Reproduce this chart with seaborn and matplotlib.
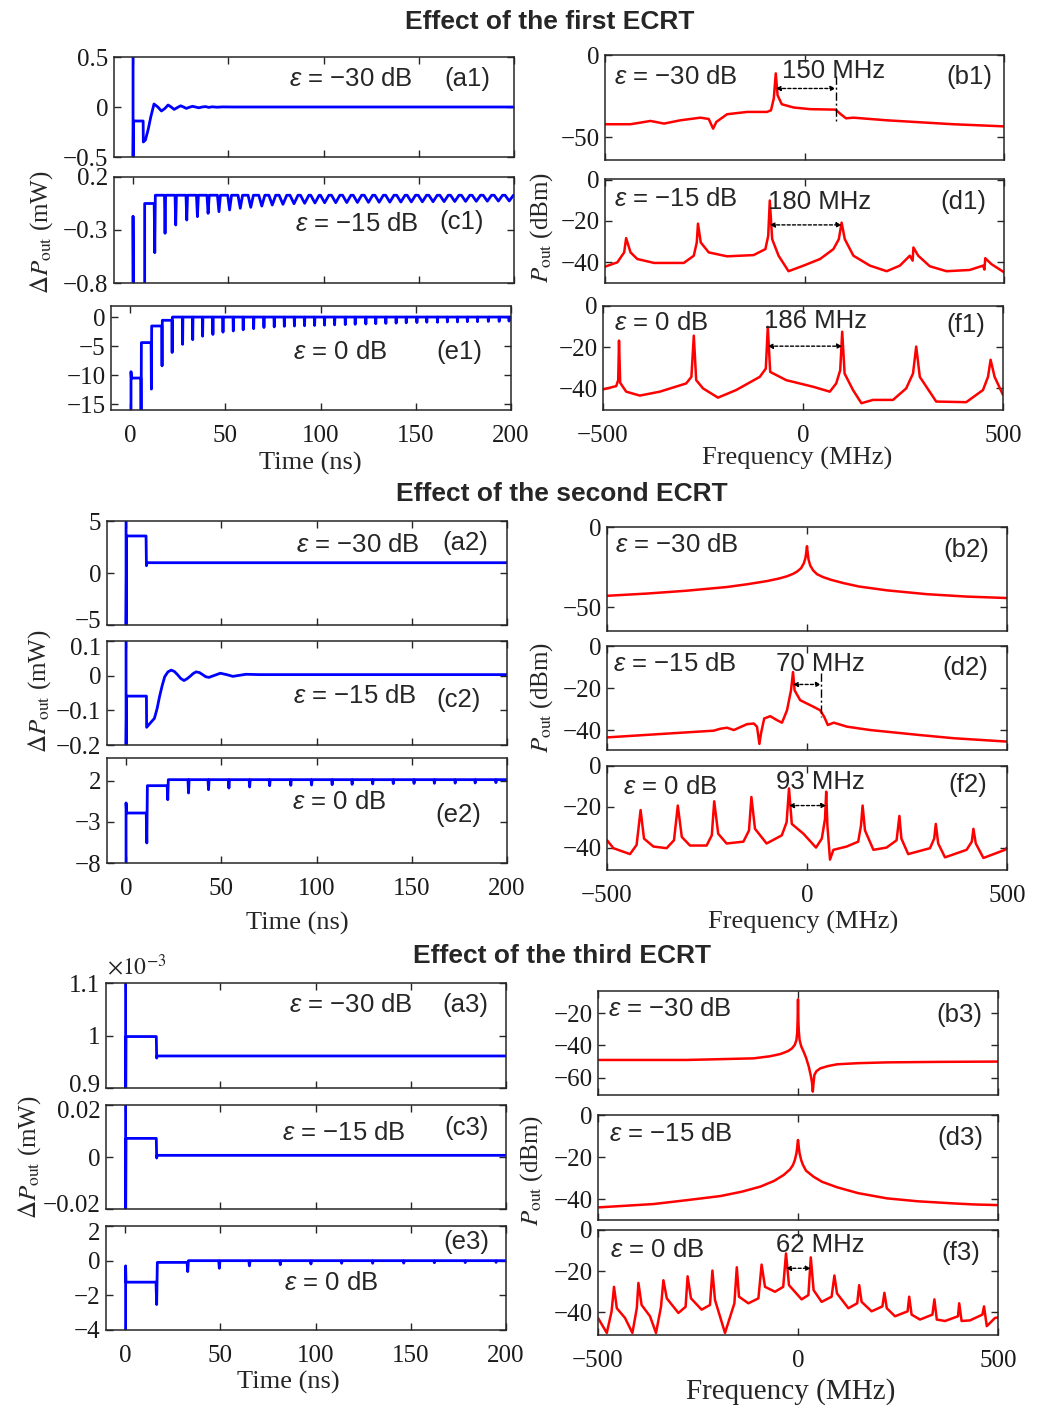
import numpy as np
import matplotlib
matplotlib.use("Agg")
import matplotlib.pyplot as plt
import seaborn as sns
from matplotlib.ticker import FixedLocator, FuncFormatter
from matplotlib.transforms import ScaledTranslation

# ---------------------------------------------------------------- time traces (ns, mW)
# first ECRT
a1_t = [0, 0, 0.2, 5.3, 5.4, 6.5, 8.0, 9.3, 11.0, 13.0, 14.9, 16.7, 18.4, 20.0, 21.6, 23.3, 25.0,
        26.5, 28.0, 29.5, 31.2, 32.8, 34.5, 36.3, 38.0, 39.8, 41.5, 44.0, 47.0, 52.0, 200]
a1_y = [0.6, -0.6, -0.14, -0.14, -0.35, -0.33, -0.22, -0.10, 0.03, 0.0, -0.04, -0.015, 0.02, 0.0,
        -0.024, -0.005, 0.012, 0.0, -0.014, -0.003, 0.007, 0.0, -0.008, 0.0, 0.004, -0.004, 0.002,
        -0.002, 0.001, 0.0, 0.0]

c1_pre_t = [0, 0, 0.2, 6.1, 6.1]
c1_pre_y = [-1.0, -0.17, -1.0, -1.0, -0.05]
c1_step_t = [6.1, 11.4]
c1_step_y = [-0.05, 0.028]
c1_dip_t = [11.4, 16.8, 22.4, 28.2, 33.8, 39.4, 45.1, 50.7, 56.3, 61.8, 67.6, 73.1, 78.7, 84.5,
            90.1, 95.5, 100.6, 106.4, 112.2, 117.8, 123.6, 129.2, 134.8, 140.6, 146.1, 151.9,
            157.5, 163.3, 168.9, 174.6, 180.2, 186.0, 191.8, 197.5]
c1_dip_y = [-0.514, -0.331, -0.253, -0.206, -0.174, -0.143, -0.127, -0.111, -0.095, -0.086,
            -0.074, -0.064, -0.058, -0.052, -0.048, -0.045, -0.043, -0.042, -0.041, -0.040,
            -0.039, -0.038, -0.037, -0.036, -0.035, -0.034, -0.033, -0.032, -0.031, -0.030,
            -0.029, -0.028, -0.027, -0.026]
c1_dip_w = [0.3, 0.3, 0.35, 0.4, 0.5, 0.6, 0.8, 1.0, 1.2, 1.4, 1.6, 1.8, 2.0, 2.1, 2.2, 2.2, 2.2,
            2.2, 2.2, 2.2, 2.2, 2.2, 2.2, 2.2, 2.2, 2.2, 2.2, 2.2, 2.2, 2.2, 2.2, 2.2, 2.2, 2.2]

e1_pre_t = [0.5, 0.5, 0.7]
e1_pre_y = [-20, -9.4, -10.5]
e1_step_t = [0.5, 5.8, 11.2, 16.8, 22.1]
e1_step_y = [-10.5, -4.4, -1.54, -0.56, 0.0]
e1_dip_t = [5.8, 11.2, 16.8, 22.1, 27.6, 32.9, 38.1, 43.5, 48.8, 54.2, 59.4, 64.9, 70.3, 75.7,
            81.0, 86.3, 91.6, 96.9, 102.1, 107.4, 113.0, 118.2, 123.8, 129.0, 134.3, 139.7,
            145.0, 150.6, 155.8, 161.4, 166.6, 171.9, 177.1, 182.4, 188.1, 193.8, 199.0]
e1_dip_y = [-20, -12.4, -8.4, -6.1, -4.7, -3.9, -3.3, -3.0, -2.6, -2.4, -2.2, -2.0, -1.8, -1.7,
            -1.6, -1.55, -1.5, -1.45, -1.4, -1.35, -1.3, -1.25, -1.2, -1.15, -1.1, -1.05, -1.0,
            -0.95, -0.9, -0.9, -0.85, -0.85, -0.8, -0.8, -0.75, -0.75, -0.7]

# second ECRT
a2_pre_t = [0, 0, 0.3]
a2_pre_y = [6, -6, 3.56]
a2_step_t = [0, 10.7]
a2_step_y = [3.56, 0.99]
a2_dip_t = [10.7]
a2_dip_y = [0.7]

c2_t = [0, 0, 0.3, 10.7, 10.8, 12.2, 14.9, 16.3, 17.6, 19.0, 20.3, 22.0, 23.7, 25.4, 27.0, 28.7,
        30.4, 32.0, 33.6, 35.2, 36.8, 38.5, 40.2, 41.8, 43.5, 46.5, 49.5, 52.8, 56.1, 59.5, 63.0,
        70.0, 80.0, 200]
c2_y = [0.12, -0.22, -0.059, -0.059, -0.149, -0.140, -0.123, -0.095, -0.060, -0.028, -0.003,
        0.011, 0.016, 0.012, 0.003, -0.008, -0.014, -0.009, -0.002, 0.006, 0.011, 0.009, 0.003,
        -0.003, -0.005, 0.001, 0.007, 0.003, -0.002, 0.001, 0.004, 0.003, 0.003, 0.003]

e2_pre_t = [0, 0, 0.3]
e2_pre_y = [-10, -0.7, -1.93]
e2_step_t = [0, 10.9, 21.9]
e2_step_y = [-1.93, 1.39, 2.12]
e2_dip_t = [10.9, 21.9, 32.8, 43.3, 54.0, 64.9, 75.4, 86.5, 97.4, 108.2, 118.7, 129.5, 140.3,
            151.2, 161.9, 172.8, 183.3, 194.2]
e2_dip_y = [-5.57, -0.31, 0.5, 0.9, 1.1, 1.23, 1.39, 1.43, 1.47, 1.51, 1.55, 1.6, 1.64, 1.66,
            1.68, 1.7, 1.72, 1.76]

# third ECRT
a3_pre_t = [0.3, 0.3, 0.5]
a3_pre_y = [1.2e-3, 0.8e-3, 0.998e-3]
a3_step_t = [0.3, 16.6]
a3_step_y = [0.998e-3, 0.961e-3]
a3_dip_t = [16.6]
a3_dip_y = [0.957e-3]

c3_pre_t = [0.3, 0.3, 0.5]
c3_pre_y = [0.03, -0.03, 0.00716]
c3_step_t = [0.3, 16.6]
c3_step_y = [0.00716, 0.00064]
c3_dip_t = [16.6]
c3_dip_y = [-0.0004]

e3_pre_t = [0.3, 0.3, 0.5]
e3_pre_y = [-6, -0.3, -1.24]
e3_step_t = [0.3, 16.6, 32.9]
e3_step_y = [-1.24, -0.1, 0.0]
e3_dip_t = [16.6, 32.9, 49.5, 65.3, 81.5, 97.6, 113.7, 130.0, 146.3, 162.4, 178.6, 194.8]
e3_dip_y = [-2.53, -0.63, -0.44, -0.3, -0.23, -0.19, -0.15, -0.15, -0.14, -0.12, -0.11, -0.1]

# ---------------------------------------------------------------- spectra (MHz, dBm)
b1_f = [-500, -436, -386, -352, -311, -261, -240, -229, -221, -194, -144, -94, -84, -77, -72,
        -67.5, -57, -27.5, 14, 78, 89, 104, 122.5, 206, 289, 372.5, 500]
b1_p = [-42.2, -42.2, -40.2, -41.8, -39.8, -38.2, -39.0, -44.9, -40.8, -36.1, -34.7, -34.7,
        -33.7, -26.5, -11.2, -24.5, -30.0, -32.0, -33.0, -33.3, -35.7, -38.6, -38.2, -39.8,
        -41.0, -42.2, -43.5]

d1_f = [-500, -469, -452, -447, -436, -419, -377, -302.5, -277.5, -270, -267, -260, -240, -194,
        -127.5, -98, -91, -87, -81, -65, -40, -2.5, 39, 72.5, 86, 93, 101, 122.5, 164, 206, 239,
        264, 271, 273, 285, 314, 356, 414, 447.5, 451, 453, 468, 500]
d1_p = [-42.1, -40, -35.2, -28.3, -35.2, -38.4, -40.3, -40.3, -36.8, -30.4, -21.3, -30.4, -35.2,
        -37.1, -36.5, -33.6, -27.2, -10.1, -28.8, -36.8, -44.3, -41.6, -38.4, -33.6, -28.8,
        -20.8, -28.8, -36.8, -41.6, -44.3, -41.6, -36.8, -39.2, -32.8, -36.8, -41.9, -44.3,
        -43.7, -41.6, -43.5, -38, -40.8, -44.8]

f1_f = [-500, -467, -462, -460, -457, -442, -408, -358, -292, -279, -273, -267, -250, -212.5,
        -167, -108, -93, -88, -82, -42, 25, 67, 83, 93, 98, 104, 125, 146, 175, 225, 258, 275,
        283, 292, 333, 408, 450, 462.5, 469, 479, 500]
f1_p = [-40.5, -38.9, -36, -16.8, -37.3, -41.6, -43.5, -41.6, -37.6, -34.4, -14.4, -36, -40,
        -44.5, -40.8, -34.4, -30.4, -10.1, -32, -36, -39.2, -41.6, -37.6, -31.2, -12.5, -32.8,
        -40.8, -47.2, -45.6, -45.6, -40, -32.8, -19.7, -34.4, -46.4, -46.7, -40.8, -34.4,
        -26.1, -34.4, -43.2]

b2_f = [-500, -400, -300, -200, -150, -100, -70, -50, -35, -25, -15, -8, -4, -2, -1, 0, 1, 2, 4,
        8, 15, 25, 40, 60, 90, 130, 200, 300, 400, 500]
b2_p = [-43, -41.6, -39.8, -37.5, -35.8, -33.8, -32.2, -30.8, -29.3, -27.9, -25.8, -22.7, -19.5,
        -16, -13.8, -12, -14.5, -16.8, -20.5, -24, -27, -29.5, -31.3, -33, -35, -37.2, -39.6,
        -42, -43.5, -44.4]

d2_f = [-500, -342, -233, -217, -200, -183, -150, -133, -125, -119, -115, -107, -92, -75, -62.5,
        -50, -40, -35, -31, -17, 17, 33, 43, 52, 67, 100, 158, 283, 367, 500]
d2_p = [-43.5, -41.6, -40.3, -39.4, -38.9, -40, -37.2, -36.9, -38.4, -46.6, -41.6, -34.5, -33.4,
        -35.3, -36.5, -30.6, -21.1, -12.4, -21.1, -25.8, -29, -30.6, -33.7, -37.6, -36.5, -38.4,
        -40, -42.4, -43.9, -45.5]

f2_f = [-500, -484, -442.5, -426, -416, -407.5, -384, -351, -332.5, -323, -313, -292.5, -251,
        -238, -232, -222, -201, -159, -145, -139, -130, -101, -63, -51, -45, -38, -9, 22.5, 37,
        45, 48, 51, 57.5, 66, 99, 128, 135, 139, 145, 166, 199, 224, 231, 236, 253, 307.5, 318,
        322, 328, 345, 399, 412, 416, 422, 441, 495, 500]
f2_p = [-36.4, -40.3, -43.2, -38.7, -21.6, -35.6, -39.5, -40.3, -36.4, -19.4, -34.8, -39, -39,
        -34, -17.3, -33.2, -38, -37.1, -31.6, -15.2, -30.8, -38, -34, -27.6, -11, -28.4, -33.2,
        -40, -35.6, -26, -12.6, -29.2, -45.9, -41.1, -39.5, -37.1, -29.2, -19.4, -31.6, -41.1,
        -40, -36.4, -24.5, -35.6, -43.2, -40.3, -35.6, -28.4, -38, -44.8, -41.1, -37.1, -30.8,
        -38, -45.1, -41.1, -40]

b3_f = [-500, -277.5, -111, -70, -44, -25, -15, -8, -4, -2, -1, 0, 1, 2, 4, 8, 14, 20, 27, 32.5,
        35, 37, 39, 41, 46, 56, 75, 97.5, 150, 222.5, 350, 500]
b3_p = [-49, -49, -48, -46.7, -45.3, -43.5, -41.8, -39.6, -36.6, -32, -25, -11.3, -25, -31,
        -36.6, -40.5, -43.8, -47.5, -53.2, -59.4, -63, -68.7, -63, -58.3, -56, -54.2, -52.8,
        -51.7, -51, -50.5, -50.2, -50]

d3_f = [-500, -430, -361, -280, -194, -140, -94, -60, -36, -20, -12.5, -8, -4, -2, -1, 0, 1, 2,
        4, 8, 12.5, 20, 39, 60, 97.5, 150, 222.5, 300, 389, 440, 500]
d3_p = [-44, -43.2, -42.4, -40.6, -38.6, -36.5, -34.1, -31.4, -28.6, -25.9, -23.8, -21.5, -18.3,
        -15.5, -13.5, -11.9, -13.5, -15.5, -18.3, -21.5, -23.8, -26.5, -29.4, -31.8, -34.4,
        -37.2, -39.7, -41.1, -42.1, -42.6, -42.9]

f3_f = [-500, -478, -466, -460, -453, -432.5, -414, -403, -399, -391, -370, -355, -342.5,
        -336.5, -328, -299, -281, -276, -267.5, -241, -220, -214, -207.5, -182.5, -159, -153,
        -147.5, -124, -99, -91, -82.5, -57.5, -37, -30, -22.5, 9, 26, 32, 39, 59, 84, 91, 97.5,
        126, 148, 153, 159, 184, 211, 216, 222, 242.5, 274, 278, 284, 305, 336, 341, 347, 367.5,
        400, 403, 409, 430, 461, 465, 472, 492.5, 500]
f3_p = [-42.7, -50, -39.5, -27.6, -38, -42.7, -50, -38, -25.7, -36.4, -41.9, -50, -37.3, -24.4,
        -33.2, -40.3, -37.3, -22.5, -33.2, -38.7, -36.4, -19.7, -34, -50, -35.6, -18.1, -32.4,
        -35.6, -33.2, -16.8, -27.6, -30, -27.6, -11.4, -26.8, -33.7, -31.6, -13.3, -29.2, -34.9,
        -32.4, -22.1, -30.8, -38, -35.6, -26.8, -34.9, -39.5, -37.1, -30.5, -38, -41.9, -39.5,
        -32.4, -41.1, -43.5, -41.1, -33.7, -43.5, -44.2, -41.9, -35.6, -44.2, -43.9, -41.1,
        -37.1, -46.7, -42.7, -42.5]

# mode spacing annotations: (start peak, spacing in MHz, arrow height in dBm)
b1_sep = (-72, 150, -20.4)
d1_sep = (-87, 180, -21.9)
f1_sep = (-88, 186, -19.5)
d2_sep = (-35, 70, -18.3)
f2_sep = (-45, 93, -19.4)
f3_sep = (-30, 62, -18.6)

eps_labels = ["\u221230 dB", "\u221215 dB", "0 dB"]

# ---------------------------------------------------------------- style
sns.set_style("ticks")
plt.rcParams["font.family"] = ["Liberation Serif", "DejaVu Serif"]
plt.rcParams["mathtext.fontset"] = "custom"
plt.rcParams["mathtext.rm"] = "Liberation Sans"
plt.rcParams["mathtext.it"] = "Liberation Sans:italic"
plt.rcParams["mathtext.bf"] = "Liberation Sans:bold"
plt.rcParams["axes.unicode_minus"] = True

W, H = 1037, 1408
fig = plt.figure(figsize=(W / 100, H / 100), dpi=100)
fig.patch.set_facecolor("white")

EDGE = "#262626"
BLUE = "#0000ff"
RED = "#ff0000"
SANS = "Liberation Sans"


def add_ax(l, t, r, b):
    return fig.add_axes([l / W, 1 - b / H, (r - l) / W, (b - t) / H])


def fmt(v, pos):
    return f"{v:g}".replace("-", "\u2212")


def fmt_milli(v, pos):
    return f"{v * 1e3:g}".replace("-", "\u2212")


def style(ax, xlim, ylim, xticks, yticks, show_x, yfmt=fmt):
    ax.set_xlim(xlim)
    ax.set_ylim(ylim)
    ax.xaxis.set_major_locator(FixedLocator(xticks))
    ax.yaxis.set_major_locator(FixedLocator(yticks))
    ax.xaxis.set_major_formatter(FuncFormatter(fmt))
    ax.yaxis.set_major_formatter(FuncFormatter(yfmt))
    ax.tick_params(direction="in", length=5, width=1, top=True, right=True,
                   labelsize=18, colors=EDGE, labelcolor="#1a1a1a")
    ax.tick_params(axis="x", pad=11, labelbottom=show_x)
    ax.tick_params(axis="y", pad=4)
    for s in ax.spines.values():
        s.set_linewidth(1.1)
        s.set_color(EDGE)
    ax.set_xlabel("")
    ax.set_ylabel("")


def nudge_ylabel(ax, index, dy_px):
    """Shift one y tick label vertically so that it clears the neighbouring panel's label."""
    tick = ax.yaxis.get_major_ticks()[index]
    tick.label1.set_transform(tick.label1.get_transform()
                              + ScaledTranslation(0, dy_px / 100, fig.dpi_scale_trans))


def trace(pre_t, pre_y, step_t, step_y, dip_t, dip_y, dip_w, t_end=200):
    """Step response: flat levels between switching events, with a dip at each event."""
    xs, ys = list(pre_t), list(pre_y)
    widths = np.broadcast_to(np.asarray(dip_w, dtype=float), (len(dip_t),))

    def level(t, after):
        idx = [i for i, s in enumerate(step_t) if (s <= t if after else s < t)]
        return step_y[idx[-1]]

    for t, d, w in zip(dip_t, dip_y, widths):
        xs += [t - w, t, t + w]
        ys += [level(t, False), d, level(t, True)]
    xs.append(t_end)
    ys.append(level(t_end, True))
    return np.array(xs), np.array(ys)


def draw(ax, x, y, color, lw):
    sns.lineplot(x=np.asarray(x), y=np.asarray(y), ax=ax, color=color, linewidth=lw,
                 estimator=None, sort=False, legend=False)


def ftext(cx, cy, s, **kw):
    return fig.text(cx / W, 1 - cy / H, s, ha="center", va="center", **kw)


def eps(cx, cy, s):
    ftext(cx, cy, r"$\varepsilon$ = " + s, fontsize=18.5, family=SANS)


def tag(cx, cy, s):
    ftext(cx, cy, s, fontsize=18.5, family=SANS)


def sep_arrow(ax, sep, cx, cy):
    f0, df, y = sep
    ax.annotate("", xy=(f0 + df, y), xytext=(f0, y),
                arrowprops=dict(arrowstyle="<|-|>", linestyle=(0, (2.2, 1.6)), lw=1.0,
                                color="k", mutation_scale=7, shrinkA=0, shrinkB=0))
    ftext(cx, cy, f"{df} MHz", fontsize=18.5, family=SANS)


def ylab(cx, cy, s, size=18):
    ftext(cx, cy, s, rotation=90, fontsize=size, family="Liberation Serif",
          math_fontfamily="stix")


T_TICKS = [0, 50, 100, 150, 200]
F_TICKS = [-500, 0, 500]
T_LIM = (-10, 200)
F_LIM = (-500, 500)
TLW, FLW = 2.0, 1.8

# ---------------------------------------------------------------- group 1
ftext(550, 22, "Effect of the first ECRT", fontsize=19, fontweight="bold", family=SANS)

ax = add_ax(114, 57, 514, 157)
draw(ax, a1_t, a1_y, BLUE, TLW)
style(ax, T_LIM, (-0.5, 0.5), T_TICKS, [-0.5, 0, 0.5], False)
eps(351, 79, eps_labels[0]); tag(467, 79, "(a1)")

ax = add_ax(114, 177, 514, 283)
draw(ax, *trace(c1_pre_t, c1_pre_y, c1_step_t, c1_step_y, c1_dip_t, c1_dip_y, c1_dip_w), BLUE, TLW)
style(ax, T_LIM, (-0.8, 0.2), T_TICKS, [-0.8, -0.3, 0.2], False)
eps(357, 224, eps_labels[1]); tag(462, 222, "(c1)")

ax = add_ax(111, 306, 511, 410)
draw(ax, *trace(e1_pre_t, e1_pre_y, e1_step_t, e1_step_y, e1_dip_t, e1_dip_y, 0.15), BLUE, TLW)
style(ax, T_LIM, (-16, 1.9), T_TICKS, [-15, -10, -5, 0], True)
eps(340, 352, eps_labels[2]); tag(459, 352, "(e1)")

ax = add_ax(605, 55, 1004, 160)
draw(ax, b1_f, b1_p, RED, FLW)
ax.plot([b1_sep[0] + b1_sep[1]] * 2, [-13, -40], color="k", lw=1.0, ls=(0, (6, 2, 1.5, 2)))
style(ax, F_LIM, (-64, 0), F_TICKS, [-50, 0], False)
eps(676, 77, eps_labels[0]); tag(969, 77, "(b1)")
sep_arrow(ax, b1_sep, 834, 71)

ax = add_ax(605, 179, 1004, 283)
draw(ax, d1_f, d1_p, RED, FLW)
style(ax, F_LIM, (-50, 0.3), F_TICKS, [-40, -20, 0], False)
eps(676, 199, eps_labels[1]); tag(963, 202, "(d1)")
sep_arrow(ax, d1_sep, 820, 202)

ax = add_ax(603, 306, 1003, 410)
draw(ax, f1_f, f1_p, RED, FLW)
style(ax, F_LIM, (-50.5, 0), F_TICKS, [-40, -20, 0], True)
eps(661, 323, eps_labels[2]); tag(966, 325, "(f1)")
sep_arrow(ax, f1_sep, 815, 321)

ftext(310, 463, "Time (ns)", fontsize=19)
ftext(797, 458, "Frequency (MHz)", fontsize=19)
ylab(42, 232, r"$\Delta P_{\rm out}$ (mW)")
ylab(542, 227, r"$P_{\rm out}$ (dBm)")

# ---------------------------------------------------------------- group 2
ftext(562, 494, "Effect of the second ECRT", fontsize=19, fontweight="bold", family=SANS)

ax = add_ax(107, 521, 507, 625)
draw(ax, *trace(a2_pre_t, a2_pre_y, a2_step_t, a2_step_y, a2_dip_t, a2_dip_y, 0.2), BLUE, TLW)
style(ax, T_LIM, (-5, 5), T_TICKS, [-5, 0, 5], False)
nudge_ylabel(ax, 0, 5)
eps(358, 545, eps_labels[0]); tag(465, 543, "(a2)")

ax = add_ax(107, 641, 507, 745)
draw(ax, c2_t, c2_y, BLUE, TLW)
style(ax, T_LIM, (-0.2, 0.1), T_TICKS, [-0.2, -0.1, 0, 0.1], False)
nudge_ylabel(ax, 3, -5)
eps(355, 696, eps_labels[1]); tag(459, 700, "(c2)")

ax = add_ax(107, 758, 507, 863)
draw(ax, *trace(e2_pre_t, e2_pre_y, e2_step_t, e2_step_y, e2_dip_t, e2_dip_y, 0.3), BLUE, TLW)
style(ax, T_LIM, (-8, 4.75), T_TICKS, [-8, -3, 2], True)
eps(339, 802, eps_labels[2]); tag(458, 815, "(e2)")

ax = add_ax(607, 527, 1007, 631)
draw(ax, b2_f, b2_p, RED, FLW)
style(ax, F_LIM, (-65, 0), F_TICKS, [-50, 0], False)
eps(677, 545, eps_labels[0]); tag(966, 550, "(b2)")

ax = add_ax(607, 646, 1007, 750)
draw(ax, d2_f, d2_p, RED, FLW)
ax.plot([d2_sep[0] + d2_sep[1]] * 2, [-13, -34], color="k", lw=1.0, ls=(0, (6, 2, 1.5, 2)))
style(ax, F_LIM, (-49.5, 0), F_TICKS, [-40, -20, 0], False)
eps(675, 664, eps_labels[1]); tag(965, 668, "(d2)")
sep_arrow(ax, d2_sep, 820, 664)

ax = add_ax(607, 766, 1007, 870)
draw(ax, f2_f, f2_p, RED, FLW)
style(ax, F_LIM, (-51, 0), F_TICKS, [-40, -20, 0], True)
eps(670, 787, eps_labels[2]); tag(968, 785, "(f2)")
sep_arrow(ax, f2_sep, 820, 782)

ftext(297, 923, "Time (ns)", fontsize=19)
ftext(803, 922, "Frequency (MHz)", fontsize=19)
ylab(40, 691, r"$\Delta P_{\rm out}$ (mW)")
ylab(542, 697, r"$P_{\rm out}$ (dBm)")

# ---------------------------------------------------------------- group 3
ftext(562, 956, "Effect of the third ECRT", fontsize=19, fontweight="bold", family=SANS)

ax = add_ax(106, 983, 506, 1088)
draw(ax, *trace(a3_pre_t, a3_pre_y, a3_step_t, a3_step_y, a3_dip_t, a3_dip_y, 0.2), BLUE, TLW)
style(ax, T_LIM, (0.9e-3, 1.1e-3), T_TICKS, [0.9e-3, 1.0e-3, 1.1e-3], False, yfmt=fmt_milli)
nudge_ylabel(ax, 0, 5)
fig.text(107 / W, 1 - 967 / H, r"$\times10^{-3}$", ha="left", va="center", fontsize=17,
         math_fontfamily="stix")
eps(351, 1005, eps_labels[0]); tag(465, 1005, "(a3)")

ax = add_ax(106, 1105, 506, 1209)
draw(ax, *trace(c3_pre_t, c3_pre_y, c3_step_t, c3_step_y, c3_dip_t, c3_dip_y, 0.2), BLUE, TLW)
style(ax, T_LIM, (-0.02, 0.02), T_TICKS, [-0.02, 0, 0.02], False)
nudge_ylabel(ax, 2, -5)
nudge_ylabel(ax, 0, 5)
eps(344, 1133, eps_labels[1]); tag(467, 1128, "(c3)")

ax = add_ax(106, 1226, 506, 1330)
draw(ax, *trace(e3_pre_t, e3_pre_y, e3_step_t, e3_step_y, e3_dip_t, e3_dip_y, 0.35), BLUE, TLW)
style(ax, T_LIM, (-4, 2), T_TICKS, [-4, -2, 0, 2], True)
nudge_ylabel(ax, 3, -5)
eps(331, 1283, eps_labels[2]); tag(466, 1242, "(e3)")

ax = add_ax(598, 991, 998, 1095)
draw(ax, b3_f, b3_p, RED, FLW)
style(ax, F_LIM, (-70.8, -6.1), F_TICKS, [-60, -40, -20], False)
eps(670, 1009, eps_labels[0]); tag(959, 1015, "(b3)")

ax = add_ax(598, 1115, 998, 1220)
draw(ax, d3_f, d3_p, RED, FLW)
style(ax, F_LIM, (-50, 0), F_TICKS, [-40, -20, 0], False)
eps(671, 1134, eps_labels[1]); tag(960, 1138, "(d3)")

ax = add_ax(598, 1230, 998, 1335)
draw(ax, f3_f, f3_p, RED, FLW)
style(ax, F_LIM, (-51, 0), F_TICKS, [-40, -20, 0], True)
eps(657, 1250, eps_labels[2]); tag(961, 1253, "(f3)")
sep_arrow(ax, f3_sep, 820, 1245)

ftext(288, 1382, "Time (ns)", fontsize=19)
ftext(791, 1392, "Frequency (MHz)", fontsize=21)
ylab(30, 1157, r"$\Delta P_{\rm out}$ (mW)")
ylab(532, 1170, r"$P_{\rm out}$ (dBm)")

fig.savefig("out.png", dpi=100, facecolor="white")
